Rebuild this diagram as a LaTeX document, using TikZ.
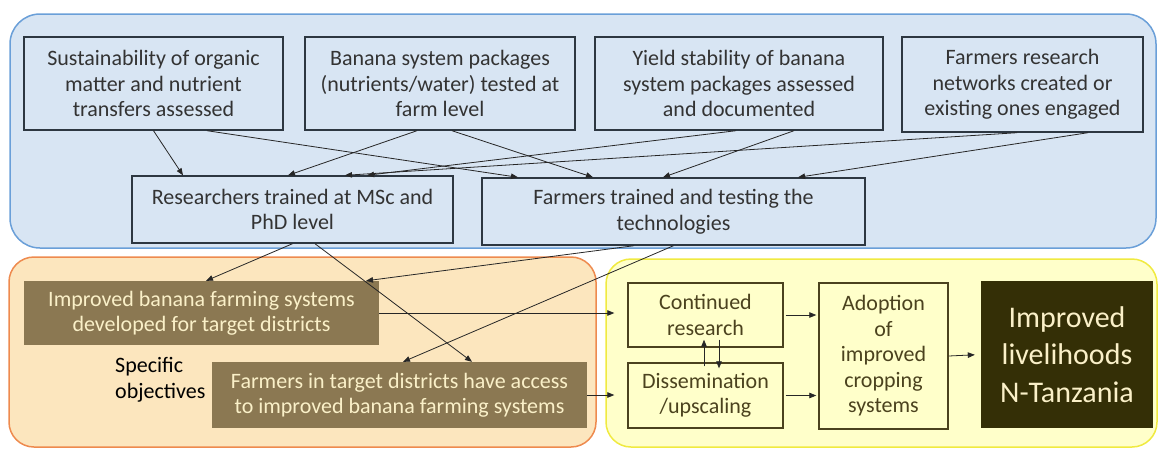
\documentclass[tikz,border=0pt]{standalone}
\usepackage{fontspec}
\setmainfont{Carlito}
\usetikzlibrary{arrows.meta,positioning}
\definecolor{bluebg}{HTML}{D8E5F3}
\definecolor{blueline}{HTML}{6A9FD8}
\definecolor{orangebg}{HTML}{FCE6BE}
\definecolor{orangeline}{HTML}{EE8A4E}
\definecolor{yellowbg}{HTML}{FFFFCA}
\definecolor{yellowline}{HTML}{F0EA40}
\definecolor{boxline}{HTML}{2D3741}
\definecolor{brownbox}{HTML}{8B7852}
\definecolor{creamtext}{HTML}{FAF0C8}
\definecolor{olive}{HTML}{4B421E}
\definecolor{darkgoal}{HTML}{342F06}

\begin{document}
\begin{tikzpicture}
    [x=1pt, y=-1pt,
    txt/.style={font=\fontsize{22}{25.5}\selectfont, align=center, inner sep=0pt},
    actbox/.style 2 args={txt, draw=boxline, fill=bluebg, text=black!80, line width=1.4pt, minimum width=#1, minimum height=#2},
    objbox/.style 2 args={txt, fill=brownbox, text=creamtext, minimum width=#1, minimum height=#2},
    pathbox/.style 2 args={txt, draw=olive, fill=yellowbg, text=olive, line width=1.4pt, minimum width=#1, minimum height=#2},
    goalbox/.style 2 args={font=\fontsize{30}{37.5}\selectfont, align=center, inner sep=0pt, fill=darkgoal, text=creamtext, minimum width=#1, minimum height=#2},
    arr/.style={-{Triangle[length=7pt,width=5.5pt]}, line width=0.8pt, draw=black!85}]
    \useasboundingbox (0,0) rectangle (1158,448);

        %% Panels
    \draw[fill=bluebg, draw=blueline, line width=1.5pt, rounded corners=30pt] (10,14) rectangle (1156,248);
    \draw[fill=orangebg, draw=orangeline, line width=1.5pt, rounded corners=25pt] (9,257) rectangle (596,447);
    \draw[fill=yellowbg, draw=yellowline, line width=1.5pt, rounded corners=25pt] (606,259) rectangle (1157,447);

        %% Activities
    \node[actbox={259pt}{93pt}] (A1) at (153.5,83.5) {Sustainability of organic\\matter and nutrient\\transfers assessed};
    \node[actbox={270pt}{93pt}] (A2) at (440,83.5) {Banana system packages\\(nutrients/water) tested at\\farm level};
    \node[actbox={288pt}{93pt}] (A3) at (739,83.5) {Yield stability of banana\\system packages assessed\\and documented};
    \node[actbox={241pt}{95pt}] (A4) at (1022.5,84.5) {Farmers research\\networks created or\\existing ones engaged};

        %% Outputs
    \node[actbox={321pt}{67pt}] (R) at (292.5,209.5) {Researchers trained at MSc and\\PhD level};
    \node[actbox={383pt}{67pt}] (F) at (673.5,211.5) {Farmers trained and testing the\\technologies};

        %% Specific objectives
    \node[objbox={355pt}{64pt}] (S1) at (201.5,313) {Improved banana farming systems\\developed for target districts};
    \node[objbox={375pt}{66pt}] (S2) at (399.5,395) {Farmers in target districts have access\\to improved banana farming systems};
    \node[txt, align=left, anchor=west] (L) at (115,380) {Specific\\objectives};

        %% Pathway
    \node[pathbox={155pt}{64pt}] (P1) at (705.5,315) {Continued\\research};
    \node[pathbox={155pt}{65pt}] (P2) at (705.5,395.5) {Dissemination\\/upscaling};
    \node[pathbox={129pt}{146pt}] (P3) at (883.5,356) {Adoption\\of\\improved\\cropping\\systems};
    \node[goalbox={172pt}{147pt}] (G) at (1067,354.5) {Improved\\livelihoods\\N-Tanzania};

    \draw[arr] (A1.south) to ([xshift=-109.5pt]R.north);
    \draw[arr] ([xshift=53.5pt]A1.south) to ([xshift=-155.5pt]F.north);
    \draw[arr] ([xshift=-23pt]A2.south) to ([xshift=-4.5pt]R.north);
    \draw[arr] ([xshift=12pt]A2.south) to ([xshift=-80.5pt]F.north);
    \draw[arr] ([xshift=-3pt]A3.south) to ([xshift=74.5pt]R.north);
    \draw[arr] ([xshift=55pt]A3.south) to ([xshift=-10.5pt]F.north);
    \draw[arr] ([xshift=-5.5pt]A4.south) to ([xshift=52.5pt]R.north);
    \draw[arr] ([xshift=65.5pt]A4.south) to ([xshift=124.5pt]F.north);

    \draw[arr] (R.south) to ([xshift=4.5pt]S1.north);
    \draw[arr] ([xshift=22.5pt]R.south) to ([xshift=72.5pt]S2.north);
    \draw[arr] ([xshift=-39.5pt]F.south) to ([xshift=164.5pt]S1.north);
    \draw[arr] (F.south) to ([xshift=3.5pt]S2.north);

    \draw[arr, shorten >=13pt] (S1.east) to (S1.east -| P1.west);
    \draw[arr, shorten >=13pt] (S2.east) to (S2.east -| P2.west);
    \draw[arr, shorten <=2pt, shorten >=2pt] (P1.east) to (P1.east -| P3.west);
    \draw[arr, shorten <=2pt, shorten >=2pt] (P2.east) to (P2.east -| P3.west);
    \draw[arr, shorten >=6pt] (P3.east) to (G.west);
    \draw[arr] ([xshift=-1.5pt,yshift=-4pt]P2.north) to ([xshift=-1.5pt,yshift=8pt]P1.south);
    \draw[arr] ([xshift=13.5pt,yshift=8pt]P1.south) to ([xshift=13.5pt,yshift=-6pt]P2.north);
\end{tikzpicture}
\end{document}
